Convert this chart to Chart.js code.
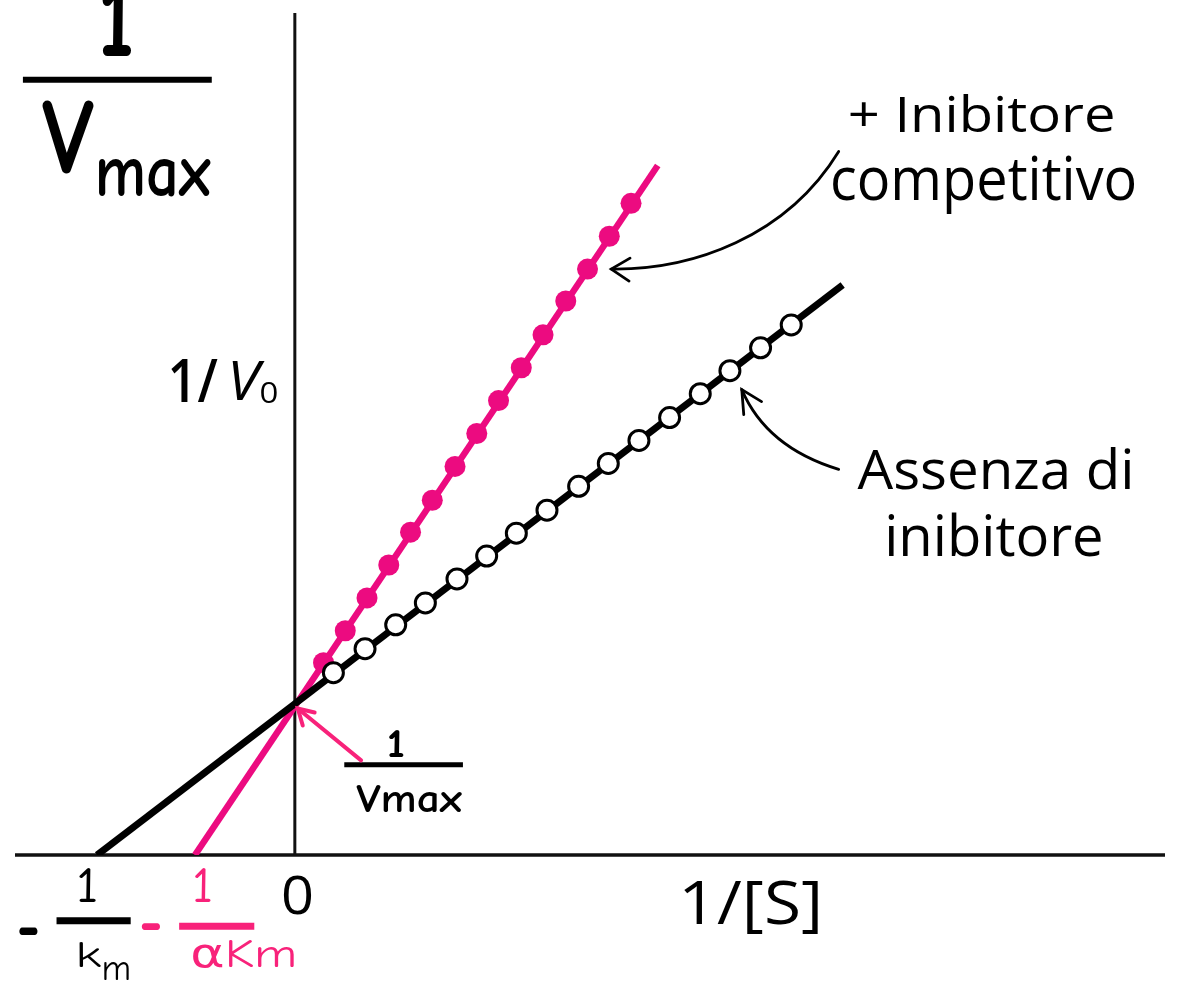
<!DOCTYPE html>
<html>
<head>
<meta charset="utf-8">
<title>Lineweaver-Burk</title>
<script src="https://cdn.jsdelivr.net/npm/chart.js@4.4.0/dist/chart.umd.min.js"></script>
<style>
  html, body { margin: 0; padding: 0; background: #fff; }
  canvas { display: block; }
</style>
</head>
<body>
<canvas id="lbChart" width="1178" height="983"></canvas>
<script>
// 1/V0 against 1/[S]
const noInhibLine = [[-2.0, 0], [5.54, 5.72]];
const inhibLine = [[-1.01, 0], [3.67, 6.92]];

const noInhibX = [0.39, 0.71, 1.02, 1.32, 1.64, 1.94, 2.24, 2.55, 2.87, 3.17, 3.48, 3.79, 4.10, 4.40, 4.71, 5.02];
const noInhibY = [1.83, 2.07, 2.31, 2.53, 2.77, 3.00, 3.23, 3.46, 3.70, 3.93, 4.16, 4.39, 4.63, 4.86, 5.09, 5.32];

const inhibX = [0.29, 0.51, 0.73, 0.95, 1.17, 1.39, 1.62, 1.84, 2.06, 2.29, 2.51, 2.74, 2.96, 3.18, 3.40];
const inhibY = [1.93, 2.25, 2.58, 2.91, 3.24, 3.56, 3.90, 4.23, 4.56, 4.89, 5.22, 5.56, 5.88, 6.21, 6.54];

const pink = '#EC0B80';
const pinkText = '#F8227A';
const comic = '"Comic Sans MS", "Comic Neue", "DejaVu Sans", sans-serif';
const sans = '"Open Sans", "Noto Sans", sans-serif';

// labels: [text, x0, x1, yTop, yBottom] in data units, font, weight, style, colour
const notes = [
  ['1', -1.95, -1.65, 8.77, 8.02, comic, 'bold', 'normal', '#000'],
  ['V', -2.56, -2.03, 7.57, 6.83, comic, 'bold', 'normal', '#000'],
  ['max', -1.98, -0.85, 6.98, 6.60, comic, 'bold', 'normal', '#000'],
  ['1/', -1.25, -0.78, 4.98, 4.55, sans, '600', 'normal', '#000'],
  ['V', -0.63, -0.30, 4.97, 4.57, sans, '500', 'italic', '#000'],
  ['0', -0.34, -0.18, 4.75, 4.53, sans, 'normal', 'normal', '#000'],
  ['+ Inibitore', 5.62, 8.27, 7.64, 7.25, sans, '500', 'normal', '#000'],
  ['competitivo', 5.44, 8.49, 7.03, 6.43, sans, '500', 'normal', '#000'],
  ['Assenza di', 5.69, 8.45, 4.10, 3.67, sans, '500', 'normal', '#000'],
  ['inibitore', 6.00, 8.15, 3.44, 3.00, sans, '500', 'normal', '#000'],
  ['1/[S]', 3.94, 5.29, -0.25, -0.79, sans, '500', 'normal', '#000'],
  ['0', -0.11, 0.17, -0.20, -0.60, sans, '500', 'normal', '#000'],
  ['1', 0.95, 1.10, 1.25, 0.98, comic, 'bold', 'normal', '#000'],
  ['Vmax', 0.62, 1.69, 0.70, 0.42, comic, 'bold', 'normal', '#000'],
  ['-', -2.79, -2.60, -0.72, -0.80, comic, 'bold', 'normal', '#000'],
  ['1', -2.18, -2.01, -0.12, -0.47, comic, 'normal', 'normal', '#000'],
  ['k', -2.18, -1.96, -0.87, -1.12, comic, 'normal', 'normal', '#000'],
  ['m', -1.93, -1.68, -1.07, -1.25, comic, 'normal', 'normal', '#000'],
  ['-', -1.55, -1.36, -0.68, -0.75, comic, 'bold', 'normal', pinkText],
  ['1', -1.01, -0.85, -0.12, -0.47, comic, 'normal', 'normal', pinkText],
  ['\u03b1Km', -1.03, -0.01, -0.85, -1.13, comic, 'normal', 'normal', pinkText]
];

// fraction bars: [x0, x1, y, width, colour]
const bars = [
  [-2.75, -0.84, 7.78, 6, '#000'],
  [0.50, 1.70, 0.905, 5, '#000'],
  [-2.41, -1.66, -0.66, 7, '#000'],
  [-1.17, -0.41, -0.715, 7, pinkText]
];

function fitText(ctx, text, left, right, top, bottom, family, weight, style, color) {
  ctx.save();
  ctx.font = style + ' ' + weight + ' 100px ' + family;
  const m = ctx.measureText(text);
  const inkW = m.actualBoundingBoxLeft + m.actualBoundingBoxRight;
  const inkH = m.actualBoundingBoxAscent + m.actualBoundingBoxDescent;
  ctx.translate(left, top);
  ctx.scale((right - left) / inkW, (bottom - top) / inkH);
  ctx.textAlign = 'left';
  ctx.textBaseline = 'alphabetic';
  ctx.fillStyle = color;
  ctx.fillText(text, m.actualBoundingBoxLeft, m.actualBoundingBoxAscent);
  ctx.restore();
}

function arrowHead(ctx, tip, a, b) {
  ctx.beginPath();
  ctx.moveTo(a[0], a[1]);
  ctx.lineTo(tip[0], tip[1]);
  ctx.lineTo(b[0], b[1]);
  ctx.stroke();
}

const axesPlugin = {
  id: 'axesLines',
  beforeDatasetsDraw(chart) {
    const { ctx, chartArea, scales: { x, y } } = chart;
    ctx.save();
    ctx.strokeStyle = '#111';
    ctx.lineWidth = 3.5;
    ctx.beginPath();
    ctx.moveTo(chartArea.left, y.getPixelForValue(0));
    ctx.lineTo(chartArea.right, y.getPixelForValue(0));
    ctx.stroke();
    ctx.lineWidth = 3;
    ctx.beginPath();
    ctx.moveTo(x.getPixelForValue(0), chartArea.top);
    ctx.lineTo(x.getPixelForValue(0), y.getPixelForValue(0));
    ctx.stroke();
    ctx.restore();
  }
};

const notesPlugin = {
  id: 'notes',
  afterDatasetsDraw(chart) {
    const { ctx, scales: { x, y } } = chart;
    const X = v => x.getPixelForValue(v);
    const Y = v => y.getPixelForValue(v);
    const P = (a, b) => [X(a), Y(b)];

    notes.forEach(n => fitText(ctx, n[0], X(n[1]), X(n[2]), Y(n[3]), Y(n[4]), n[5], n[6], n[7], n[8]));

    ctx.save();
    ctx.lineCap = 'butt';
    bars.forEach(b => {
      ctx.strokeStyle = b[4];
      ctx.lineWidth = b[3];
      ctx.beginPath();
      ctx.moveTo(X(b[0]), Y(b[2]));
      ctx.lineTo(X(b[1]), Y(b[2]));
      ctx.stroke();
    });

    // curved arrow to the inhibitor line
    ctx.strokeStyle = '#000';
    ctx.lineWidth = 2.8;
    ctx.lineCap = 'round';
    let p0 = P(5.50, 7.06), c1 = P(4.97, 6.20), c2 = P(4.02, 5.87), p1 = P(3.20, 5.88);
    ctx.beginPath();
    ctx.moveTo(p0[0], p0[1]);
    ctx.bezierCurveTo(c1[0], c1[1], c2[0], c2[1], p1[0], p1[1]);
    ctx.stroke();
    arrowHead(ctx, p1, P(3.39, 5.99), P(3.38, 5.76));

    // curved arrow to the no-inhibitor line
    p0 = P(5.50, 3.87); c1 = P(4.77, 4.09); p1 = P(4.52, 4.67);
    ctx.beginPath();
    ctx.moveTo(p0[0], p0[1]);
    ctx.quadraticCurveTo(c1[0], c1[1], p1[0], p1[1]);
    ctx.stroke();
    arrowHead(ctx, p1, P(4.72, 4.55), P(4.54, 4.42));

    // pink arrow to 1/Vmax
    ctx.strokeStyle = pinkText;
    ctx.lineWidth = 4;
    p0 = P(0.67, 0.95); p1 = P(0.03, 1.47);
    ctx.beginPath();
    ctx.moveTo(p0[0], p0[1]);
    ctx.lineTo(p1[0], p1[1]);
    ctx.stroke();
    arrowHead(ctx, p1, P(0.20, 1.43), P(0.08, 1.30));
    ctx.restore();
  }
};

const toPts = arr => arr.map(p => ({ x: p[0], y: p[1] }));

new Chart(document.getElementById('lbChart'), {
  type: 'scatter',
  data: {
    datasets: [
      {
        label: 'Assenza di inibitore',
        data: noInhibX.map((v, i) => ({ x: v, y: noInhibY[i] })),
        pointRadius: 10,
        backgroundColor: '#fff',
        borderColor: '#000',
        borderWidth: 3,
        clip: false
      },
      {
        label: 'retta senza inibitore',
        data: toPts(noInhibLine),
        showLine: true,
        borderColor: '#000',
        borderWidth: 7,
        pointRadius: 0,
        clip: 0
      },
      {
        label: '+ Inibitore competitivo',
        data: inhibX.map((v, i) => ({ x: v, y: inhibY[i] })),
        pointRadius: 10.5,
        backgroundColor: pink,
        borderColor: pink,
        borderWidth: 0,
        clip: false
      },
      {
        label: 'retta con inibitore',
        data: toPts(inhibLine),
        showLine: true,
        borderColor: pink,
        borderWidth: 6.5,
        pointRadius: 0,
        clip: 0
      }
    ]
  },
  options: {
    responsive: false,
    animation: false,
    devicePixelRatio: 1,
    events: [],
    layout: { padding: { left: 15, right: 0, top: 10, bottom: 128 } },
    plugins: {
      legend: { display: false },
      tooltip: { enabled: false }
    },
    scales: {
      x: { type: 'linear', min: -2.83, max: 8.80, display: false },
      y: { type: 'linear', min: 0, max: 8.45, display: false }
    }
  },
  plugins: [axesPlugin, notesPlugin]
});
</script>
</body>
</html>
